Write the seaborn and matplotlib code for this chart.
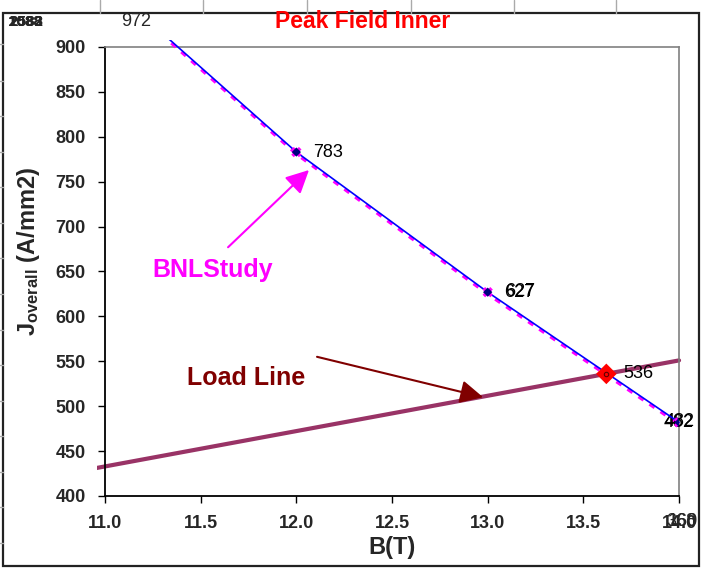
import matplotlib
matplotlib.use("Agg")
import matplotlib.pyplot as plt
import matplotlib.transforms as mtransforms
from matplotlib.lines import Line2D
from matplotlib.patches import Rectangle
import seaborn as sns
import pandas as pd
import numpy as np

# ==============================
# Data
# ==============================
b_study = [11.0, 12.0, 13.0, 14.0]          # B (T)
j_blue = [972, 783, 627, 482]              # short-sample curve
j_bnl = [972, 783, 627, 482]               # BNL study curve
b_load = [0.0, 14.0]
j_load = [0.0, 551.0]                      # load line through origin
b_peak = [13.62]
j_peak = [536]
blue_labels = ["783", "627", "482"]
bnl_labels = ["783", "627", "482"]
peak_labels = ["536"]
x_ticks = [11.0, 11.5, 12.0, 12.5, 13.0, 13.5, 14.0]
y_ticks = [400, 450, 500, 550, 600, 650, 700, 750, 800, 850, 900]

blue_df = pd.DataFrame({"B": b_study, "J": j_blue})
bnl_df = pd.DataFrame({"B": b_study, "J": j_bnl})
load_df = pd.DataFrame({"B": b_load, "J": j_load})
peak_df = pd.DataFrame({"B": b_peak, "J": j_peak})

# ==============================
# Style
# ==============================
sns.set_theme(style="white")
plt.rcParams["font.family"] = ["Liberation Sans", "DejaVu Sans"]
plt.rcParams["mathtext.fontset"] = "custom"
plt.rcParams["mathtext.rm"] = "Liberation Sans:bold"
plt.rcParams["mathtext.it"] = "Liberation Sans:bold"
plt.rcParams["mathtext.bf"] = "Liberation Sans:bold"

fig = plt.figure(figsize=(7.02, 5.69), dpi=100)
ax = fig.add_axes([0.1496, 0.1283, 0.8177, 0.7891])

# lines may spill a few pixels past the plot area, like the original
clip = Rectangle((-0.014, -0.018), 1.03, 1.034, transform=ax.transAxes,
                 facecolor="none", edgecolor="none")
ax.add_patch(clip)

sns.lineplot(data=load_df, x="B", y="J", ax=ax, color="#993366", lw=3, zorder=2)
shift = mtransforms.offset_copy(ax.transData, fig=fig, x=0, y=-2.2, units="dots")
sns.lineplot(data=bnl_df, x="B", y="J", ax=ax, color="#FF00FF", lw=2.0,
             dashes=False, zorder=3, transform=shift)
ax.lines[-1].set_linestyle((0, (2.2, 2.6)))
sns.lineplot(data=blue_df, x="B", y="J", ax=ax, color="#0000FF", lw=1.2, zorder=4)
for ln in ax.lines:
    ln.set_clip_path(clip)

sns.scatterplot(data=bnl_df, x="B", y="J", ax=ax, marker="X", s=55,
                color="#FF00FF", edgecolor="none", zorder=5)
sns.scatterplot(data=blue_df, x="B", y="J", ax=ax, marker="D", s=22,
                color="#000080", edgecolor="none", zorder=6)
sns.scatterplot(data=peak_df, x="B", y="J", ax=ax, marker="D", s=110,
                color="#FF0000", edgecolor="none", zorder=7)
sns.scatterplot(data=peak_df, x="B", y="J", ax=ax, marker="o", s=10,
                color="#FF0000", edgecolor="#600000", linewidth=0.8, zorder=8)

# data labels
for b, j, lab in zip(b_study[1:], j_blue[1:], blue_labels):
    dx = 12 if b < 14 else -11
    ax.annotate(lab, (b, j), xytext=(dx, 0), textcoords="offset points",
                ha="left", va="center", fontsize=13, color="black")
for b, j, lab in zip(b_study[2:], j_bnl[2:], bnl_labels[1:]):
    dx = 12.7 if b < 14 else -10.2
    ax.annotate(lab, (b, j), xytext=(dx, 0.6), textcoords="offset points",
                ha="left", va="center", fontsize=13, color="black")
for b, j, lab in zip(b_peak, j_peak, peak_labels):
    ax.annotate(lab, (b, j), xytext=(12, 0), textcoords="offset points",
                ha="left", va="center", fontsize=13, color="black")

# callouts
ax.annotate("", xy=(12.066, 763), xytext=(11.643, 677),
            arrowprops=dict(arrowstyle="-|>,head_length=0.7,head_width=0.35",
                            color="#FF00FF", lw=1.5, mutation_scale=20,
                            shrinkA=0, shrinkB=0))
ax.text(11.25, 652, "BNLStudy", color="#FF00FF", fontsize=18,
        fontweight="bold", ha="left", va="center")
ax.annotate("", xy=(12.976, 510), xytext=(12.108, 555),
            arrowprops=dict(arrowstyle="-|>,head_length=0.7,head_width=0.35",
                            color="#800000", lw=1.5, mutation_scale=20,
                            shrinkA=0, shrinkB=0))
ax.text(11.43, 531, "Load Line", color="#800000", fontsize=18,
        fontweight="bold", ha="left", va="center")

# axes
ax.set_xlim(11.0, 14.0)
ax.set_ylim(400, 900)
ax.set_xticks(x_ticks)
ax.set_yticks(y_ticks)
ax.set_xticklabels([f"{t:.1f}" for t in x_ticks], fontsize=13, fontweight="bold")
ax.set_yticklabels([str(t) for t in y_ticks], fontsize=13, fontweight="bold")
ax.tick_params(axis="both", direction="out", length=5, width=1, color="black",
               bottom=True, left=True)
ax.tick_params(axis="y", pad=9)
ax.tick_params(axis="x", pad=9)
for side in ["left", "bottom"]:
    ax.spines[side].set_color("black")
    ax.spines[side].set_linewidth(1.3)
for side in ["top", "right"]:
    ax.spines[side].set_color("#808080")
    ax.spines[side].set_linewidth(1.2)

ax.set_xlabel("B(T)", fontsize=17, fontweight="bold")
ax.set_ylabel(r"J$_{\mathbf{overall}}$ (A/mm2)", fontsize=17, fontweight="bold")
ax.xaxis.set_label_coords(0.5, -0.088)
ax.yaxis.set_label_coords(-0.11, 0.545)

# title and stray overflow labels from the spreadsheet chart
fig.text(0.516, 0.962, "Peak Field Inner", color="#FF0000", fontsize=16.5,
         fontweight="bold", ha="center", va="center")
fig.text(0.194, 0.962, "972", fontsize=13, ha="center", va="center")
for dx, lab in zip([0.0, 0.001, 0.002, -0.001], ["2088", "1582", "2583", "1088"]):
    fig.text(0.012 + dx, 0.962, lab, fontsize=11, fontweight="bold",
             ha="left", va="center")
for dx, lab in zip([0.002, 0.004], ["368", "160"]):
    fig.text(0.968 + dx, 0.084, lab, fontsize=13, ha="center", va="center")

# outer chart frame and spreadsheet grid stubs
fig.add_artist(Rectangle((0.0043, 0.0053), 0.9914, 0.9717, transform=fig.transFigure,
                         facecolor="none", edgecolor="#222222", lw=1.6))
for px in [100, 203, 307, 411, 514, 616]:
    fig.add_artist(Line2D([px / 702, px / 702], [0.977, 1.0], transform=fig.transFigure,
                          color="#aaaaaa", lw=1))
for py in [44, 81, 116, 152, 187, 223, 258, 294, 330, 365, 401, 436, 472, 507, 543]:
    fig.add_artist(Line2D([0, 0.0043], [1 - py / 569, 1 - py / 569],
                          transform=fig.transFigure, color="#aaaaaa", lw=1))

fig.savefig("out.png", dpi=100)
